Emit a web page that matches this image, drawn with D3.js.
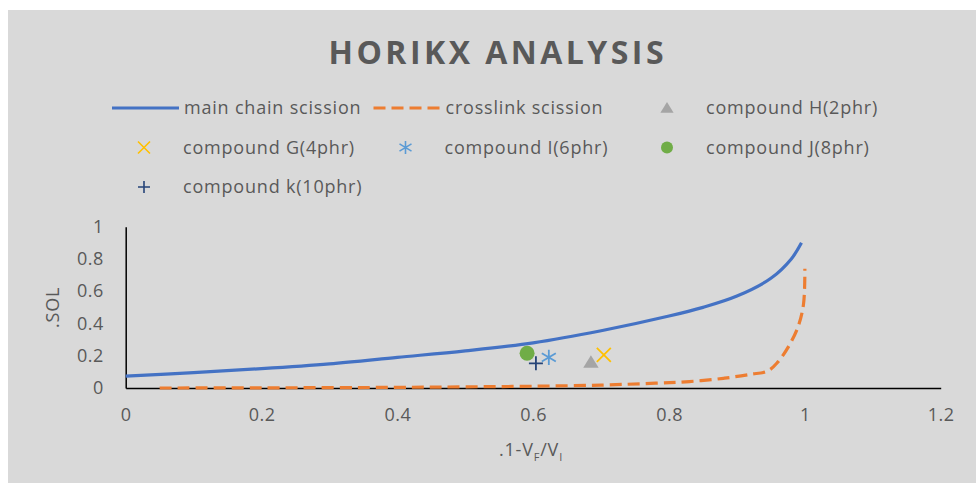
<!DOCTYPE html>
<html>
<head>
<meta charset="utf-8">
<script src="https://cdn.jsdelivr.net/npm/d3@7"></script>
<style>
  body { margin: 0; background: #ffffff; }
  text { font-family: "Open Sans", sans-serif; fill: #595959; }
</style>
</head>
<body>
<div id="myChart"></div>
<script>

// main chain scission curve
var mainX = [0, 0.1, 0.2, 0.3, 0.4, 0.5, 0.6, 0.7, 0.8, 0.85, 0.9, 0.95, 0.98, 0.995];
var mainY = [0.074, 0.095, 0.12, 0.15, 0.19, 0.23, 0.28, 0.355, 0.446, 0.50, 0.57, 0.68, 0.80, 0.90];

// crosslink scission curve
var crossX = [0.05, 0.2, 0.4, 0.5, 0.6, 0.7, 0.78, 0.83, 0.88, 0.92, 0.945, 0.96, 0.975, 0.99, 0.998, 1.0];
var crossY = [0, 0.001, 0.004, 0.007, 0.011, 0.018, 0.03, 0.04, 0.06, 0.085, 0.105, 0.16, 0.25, 0.38, 0.52, 0.74];

// compounds
var compNames = ["compound H(2phr)", "compound G(4phr)", "compound I(6phr)", "compound J(8phr)", "compound k(10phr)"];
var compX = [0.685, 0.704, 0.623, 0.591, 0.604];
var compY = [0.16, 0.205, 0.19, 0.215, 0.153];
var compMarker = ["triangle", "times", "asterisk", "circle", "plus"];
var compColor = ["#a5a5a5", "#ffc000", "#5b9bd5", "#70ad47", "#264478"];

var lineNames = ["main chain scission", "crosslink scission"];
var lineColor = ["#4472c4", "#ed7d31"];

var xTicks = [0, 0.2, 0.4, 0.6, 0.8, 1, 1.2];
var yTicks = [0, 0.2, 0.4, 0.6, 0.8, 1];

var width = 976;
var height = 483;

var svg = d3.select("#myChart")
	.append("svg")
	.attr("width", width)
	.attr("height", height);

// gray chart area
svg.append("rect")
	.attr("x", 8)
	.attr("y", 10)
	.attr("width", width - 8)
	.attr("height", height - 10)
	.attr("fill", "#d9d9d9");

// title
svg.append("text")
	.attr("x", 496)
	.attr("y", 63.5)
	.attr("text-anchor", "middle")
	.attr("textLength", 335)
	.attr("lengthAdjust", "spacing")
	.style("font-size", "32px")
	.style("font-weight", "bold")
	.text("HORIKX ANALYSIS");

// plot area
var plot = {left: 125.7, right: 940.7, top: 226.7, bottom: 388};

var xScale = d3.scaleLinear().domain([0, 1.2]).range([plot.left, plot.right]);
var yScale = d3.scaleLinear().domain([0, 1]).range([plot.bottom, plot.top]);

var xAxis = svg.append("g")
	.attr("transform", "translate(0," + plot.bottom + ")")
	.call(d3.axisBottom(xScale).tickValues(xTicks).tickSize(0).tickSizeOuter(0).tickPadding(20)
		.tickFormat(function(d) { return d; }));

var yAxis = svg.append("g")
	.attr("transform", "translate(" + plot.left + ",0)")
	.call(d3.axisLeft(yScale).tickValues(yTicks).tickSize(0).tickSizeOuter(0).tickPadding(22)
		.tickFormat(function(d) { return d; }));

svg.selectAll(".domain").attr("stroke", "#000").attr("stroke-width", 1.5);
svg.selectAll(".tick text")
	.style("font-size", "18px")
	.style("font-family", "Open Sans, sans-serif")
	.style("letter-spacing", "0.5px")
	.attr("fill", "#595959");

// axis labels
svg.append("text")
	.attr("transform", "translate(59," + ((plot.top + plot.bottom) / 2) + ") rotate(-90)")
	.attr("text-anchor", "middle")
	.style("font-size", "18px")
	.style("letter-spacing", "0.8px")
	.text(".SOL");

var xl = svg.append("text")
	.attr("x", 531)
	.attr("y", 456)
	.attr("text-anchor", "middle")
	.style("font-size", "18px")
	.style("letter-spacing", "0.8px");
xl.append("tspan").text(".1-V");
xl.append("tspan").attr("dy", 5).style("font-size", "11px").text("F");
xl.append("tspan").attr("dy", -5).text("/V");
xl.append("tspan").attr("dy", 5).style("font-size", "11px").text("I");

// curves
var line = d3.line()
	.x(function(d) { return xScale(d[0]); })
	.y(function(d) { return yScale(d[1]); })
	.curve(d3.curveCatmullRom.alpha(0.5));

svg.append("path")
	.datum(d3.zip(crossX, crossY))
	.attr("d", line)
	.attr("fill", "none")
	.attr("stroke", lineColor[1])
	.attr("stroke-width", 3.2)
	.attr("stroke-dasharray", "12,6");

svg.append("path")
	.datum(d3.zip(mainX, mainY))
	.attr("d", line)
	.attr("fill", "none")
	.attr("stroke", lineColor[0])
	.attr("stroke-width", 3.2);

// marker shapes
function markerPath(type, r) {
	var p = d3.path();
	if (type == "triangle") {
		p.moveTo(0, -r); p.lineTo(r * 1.1, r * 0.8); p.lineTo(-r * 1.1, r * 0.8); p.closePath();
	} else if (type == "circle") {
		p.arc(0, 0, r, 0, 2 * Math.PI);
	} else if (type == "times") {
		p.moveTo(-r, -r); p.lineTo(r, r); p.moveTo(r, -r); p.lineTo(-r, r);
	} else if (type == "plus") {
		p.moveTo(-r, 0); p.lineTo(r, 0); p.moveTo(0, -r); p.lineTo(0, r);
	} else if (type == "asterisk") {
		p.moveTo(0, -r * 1.1); p.lineTo(0, r * 1.1);
		p.moveTo(-r, -r * 0.6); p.lineTo(r, r * 0.6);
		p.moveTo(r, -r * 0.6); p.lineTo(-r, r * 0.6);
	}
	return p.toString();
}
function isFilled(type) { return type == "triangle" || type == "circle"; }

var order = [0, 1, 4, 2, 3];
svg.selectAll(".dot")
	.data(order)
	.enter()
	.append("path")
	.attr("transform", function(i) { return "translate(" + xScale(compX[i]) + "," + yScale(compY[i]) + ")"; })
	.attr("d", function(i) { return markerPath(compMarker[i], compMarker[i] == "circle" ? 7.5 : 7); })
	.attr("fill", function(i) { return isFilled(compMarker[i]) ? compColor[i] : "none"; })
	.attr("stroke", function(i) { return isFilled(compMarker[i]) ? "none" : compColor[i]; })
	.attr("stroke-width", 1.8);

// legend
var legendItems = [
	{name: lineNames[0], kind: "line", idx: 0},
	{name: lineNames[1], kind: "dash", idx: 1},
	{name: compNames[0], kind: "marker", idx: 0},
	{name: compNames[1], kind: "marker", idx: 1},
	{name: compNames[2], kind: "marker", idx: 2},
	{name: compNames[3], kind: "marker", idx: 3},
	{name: compNames[4], kind: "marker", idx: 4}
];
var legend = svg.append("g");
legendItems.forEach(function(item, k) {
	var col = k % 3, row = Math.floor(k / 3);
	var x0 = 112 + col * 261.5;
	var y0 = 108 + row * 39.5;
	var g = legend.append("g").attr("transform", "translate(" + x0 + "," + y0 + ")");
	if (item.kind == "line" || item.kind == "dash") {
		g.append("line")
			.attr("x1", 0).attr("x2", 67)
			.attr("stroke", lineColor[item.idx])
			.attr("stroke-width", 3.2)
			.attr("stroke-dasharray", item.kind == "dash" ? "12,6" : null);
		g.append("text").attr("x", 72).attr("dy", "0.35em")
			.style("font-size", "18px").style("letter-spacing", "0.8px").text(item.name);
	} else {
		var t = compMarker[item.idx];
		g.append("path")
			.attr("transform", "translate(32,0)")
			.attr("d", markerPath(t, 6))
			.attr("fill", isFilled(t) ? compColor[item.idx] : "none")
			.attr("stroke", isFilled(t) ? "none" : compColor[item.idx])
			.attr("stroke-width", 1.6);
		g.append("text").attr("x", 71).attr("dy", "0.35em")
			.style("font-size", "18px").style("letter-spacing", "0.8px").text(item.name);
	}
});

</script>
</body>
</html>
